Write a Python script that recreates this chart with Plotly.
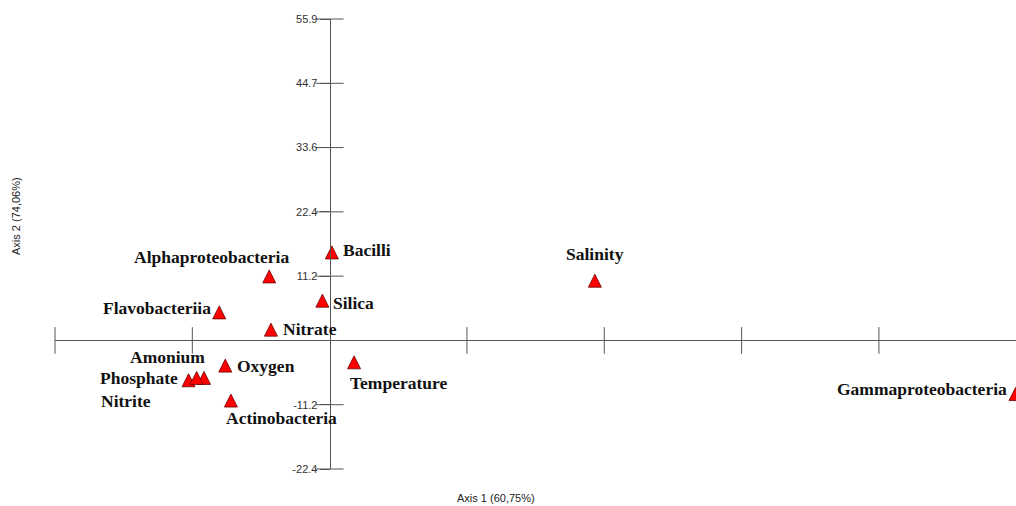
import plotly.graph_objects as go

# ---- data ----
labels = ["Bacilli", "Alphaproteobacteria", "Silica", "Flavobacteriia", "Nitrate",
          "Oxygen", "Amonium", "Phosphate", "Nitrite", "Actinobacteria",
          "Temperature", "Salinity", "Gammaproteobacteria"]
axis1 = [0.18, -4.92, -0.59, -8.99, -4.78, -8.50, -10.23, -11.49, -10.83, -8.04,
         1.99, 21.60, 55.86]
axis2 = [16.44, 12.27, 8.05, 6.01, 3.01, -3.25, -5.39, -5.80, -5.39, -9.33,
         -2.68, 11.52, -8.20]

step = 11.184
y_tickvals = [k * step for k in (-2, -1, 1, 2, 3, 4, 5)]
y_ticktext = ["-22.4", "-11.2", "11.2", "22.4", "33.6", "44.7", "55.9"]
x_tickvals = [k * step for k in (-2, -1, 1, 2, 3, 4)]

# label placement (pixel offsets from the marker, anchor)
label_pos = {
    "Bacilli": (9, -4, "left"),
    "Alphaproteobacteria": (-58, 13, "center"),
    "Silica": (9, -8.5, "left"),
    "Flavobacteriia": (-6, -2, "right"),
    "Nitrate": (10, -5.5, "left"),
    "Oxygen": (10, -6.5, "left"),
    "Amonium": (3, 14, "right"),
    "Phosphate": (-9, -4, "right"),
    "Nitrite": (-44, -30, "right"),
    "Actinobacteria": (-6.5, -23.5, "left"),
    "Temperature": (-6, -27, "left"),
    "Salinity": (0, 20.5, "center"),
    "Gammaproteobacteria": (-7, -1, "right"),
}

W, H = 1016, 506
ml, mr, mt, mb = 55, 0, 19, 37
plot_w = W - ml - mr
x_min = -2 * step
x_max = 55.9
y_min, y_max = -2 * step, 5 * step

axis_col = "#555555"

fig = go.Figure()

# x-axis tick marks (crossing the horizontal axis)
fig.add_trace(go.Scatter(
    x=x_tickvals, y=[0] * len(x_tickvals), mode="markers",
    marker=dict(symbol="line-ns", size=19, line=dict(color=axis_col, width=1)),
    hoverinfo="skip", showlegend=False, cliponaxis=False))

# y-axis tick marks (crossing the vertical axis)
fig.add_trace(go.Scatter(
    x=[0] * len(y_tickvals), y=y_tickvals, mode="markers",
    marker=dict(symbol="line-ew", size=20, line=dict(color=axis_col, width=1)),
    hoverinfo="skip", showlegend=False, cliponaxis=False))

# points
fig.add_trace(go.Scatter(
    x=axis1, y=axis2, mode="markers",
    marker=dict(symbol="arrow-up", size=13, color="#ff0000",
                line=dict(color="#6a0000", width=0.8)),
    hoverinfo="text", text=labels, showlegend=False, cliponaxis=False))

annotations = []
for name, xv, yv in zip(labels, axis1, axis2):
    dx, dy, anc = label_pos[name]
    annotations.append(dict(
        x=xv, y=yv, xref="x", yref="y", text=name, showarrow=False,
        xanchor=anc, yanchor="middle", xshift=dx, yshift=dy,
        font=dict(family="Liberation Serif", size=17.5, color="#111111", weight="bold")))

annotations.append(dict(
    x=(496 - ml) / plot_w, y=-(498 - (H - mb)) / (H - mt - mb), xref="paper", yref="paper",
    text="Axis 1 (60,75%)", showarrow=False, xanchor="center", yanchor="middle",
    font=dict(family="Liberation Sans", size=11, color="#222222")))
annotations.append(dict(
    x=(16 - ml) / plot_w, y=((H - mb) - 216) / (H - mt - mb), xref="paper", yref="paper",
    text="Axis 2 (74,06%)", showarrow=False, xanchor="center", yanchor="middle",
    textangle=-90,
    font=dict(family="Liberation Sans", size=11, color="#222222")))

fig.update_layout(
    width=W, height=H,
    margin=dict(l=ml, r=mr, t=mt, b=mb, pad=0),
    paper_bgcolor="white", plot_bgcolor="white",
    showlegend=False,
    annotations=annotations,
    xaxis=dict(range=[x_min, x_max], showgrid=False, zeroline=False, showline=False,
               showticklabels=False, ticks="", fixedrange=True),
    yaxis=dict(range=[y_min, y_max], showgrid=False,
               zeroline=True, zerolinecolor=axis_col, zerolinewidth=1,
               anchor="free", position=(0 - x_min) / (x_max - x_min), side="left",
               showline=True, linecolor=axis_col, linewidth=1,
               tickmode="array", tickvals=y_tickvals, ticktext=y_ticktext,
               ticks="outside", ticklen=10, tickcolor=axis_col, tickwidth=1,
               tickfont=dict(family="Liberation Sans", size=11, color="#333333"),
               fixedrange=True),
)

fig.write_html("out.html")
